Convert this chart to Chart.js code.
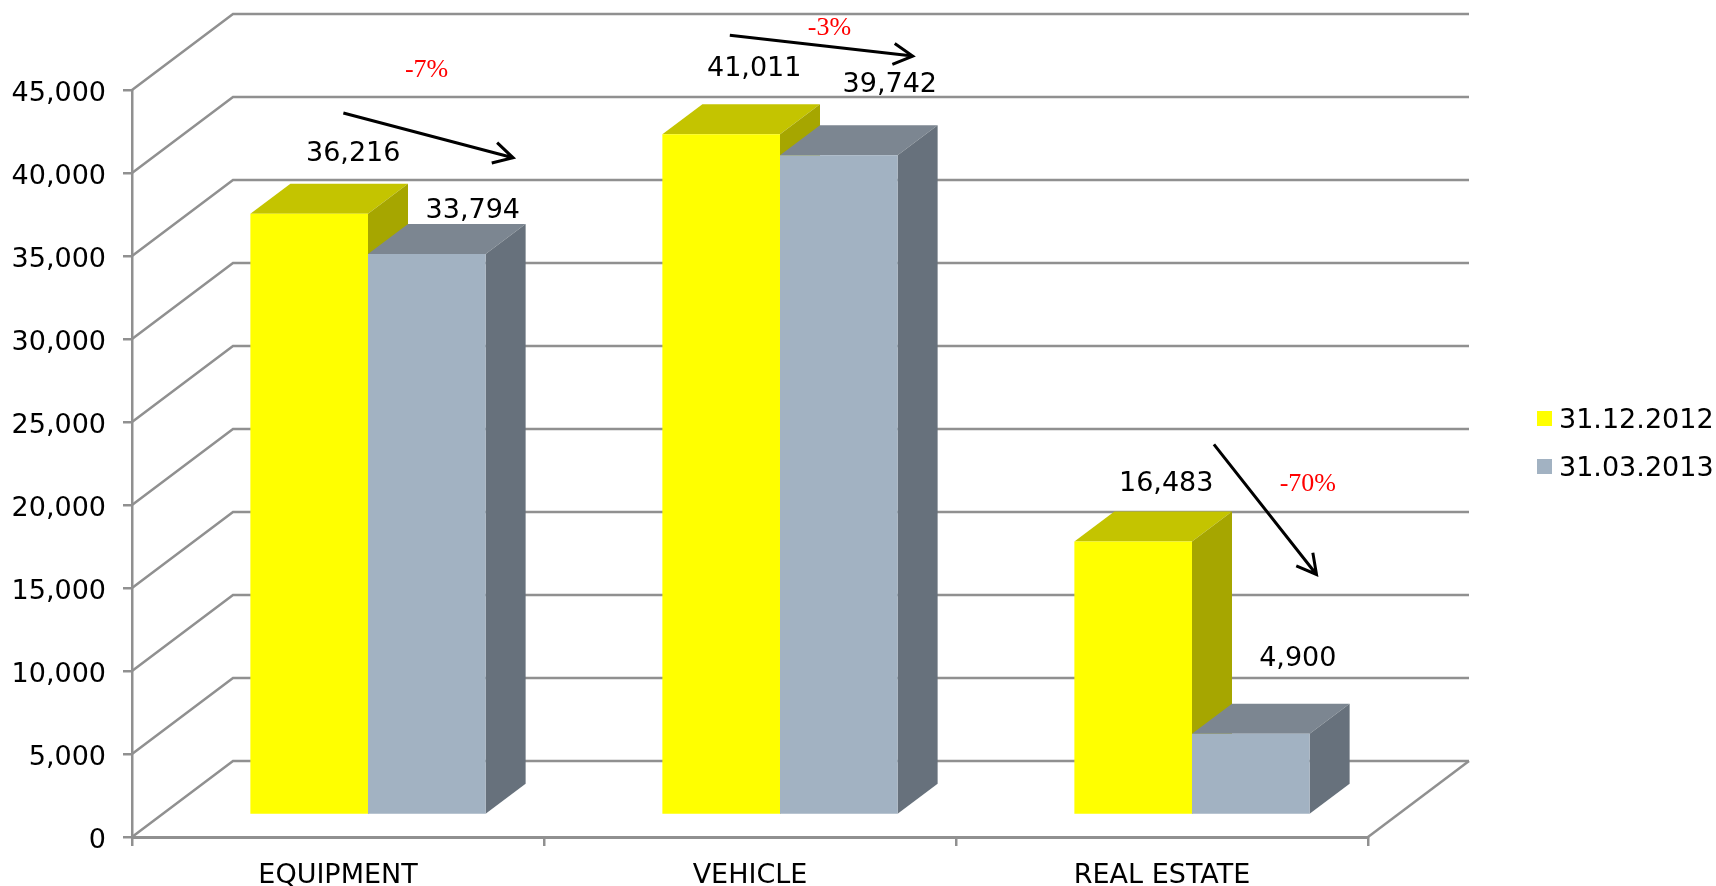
<!DOCTYPE html>
<html lang="en">

<head>
    <meta charset="UTF-8">
    <title>Portfolio by type</title>
    <script src="https://cdn.jsdelivr.net/npm/chart.js"></script>
    <style>
        html, body { margin: 0; padding: 0; background: #fff; overflow: hidden; }
        canvas { display: block; }
    </style>
</head>

<body>
    <canvas id="myChart" width="1716" height="886"></canvas>

    <script>
        // chart data
        const categories = ['EQUIPMENT', 'VEHICLE', 'REAL ESTATE'];
        const seriesNames = ['31.12.2012', '31.03.2013'];
        const values2012 = [36216, 41011, 16483];
        const values2013 = [33794, 39742, 4900];
        const yMax = 45000;
        const yStep = 5000;

        // change notes, placed in axis units: [category position, value, text]
        const notes = [
            [0.215, 46186, '-7%'],
            [1.193, 48750, '-3%'],
            [2.354, 21280, '-70%']
        ];
        // arrows in axis units: [from category, from value, to category, to value]
        const arrows = [
            [0.013, 43617, 0.425, 40915],
            [0.951, 48294, 1.395, 47043],
            [2.126, 23653, 2.375, 15813]
        ];

        // look of the fake 3d
        const front = ['#ffff00', '#a2b2c2'];
        const topFace = ['#c4c400', '#7c8691'];
        const sideFace = ['#a6a600', '#67717c'];
        const gridColor = '#909090';
        const wall = { dx: 101, dy: -76 };     // back wall offset from the axis plane
        const shift = { dx: 30, dy: -22 };     // bars stand this far in from the front
        const depth = { dx: 40, dy: -30 };     // bar depth
        const labelOffset = [
            [[44, -60], [33, -65], [33, -57]],
            [[46, -43], [51, -70], [47, -75]]
        ];
        const textFont = '27px "DejaVu Sans"';
        const noteFont = '26px "Liberation Serif"';

        function poly(ctx, color, pts) {
            ctx.fillStyle = color;
            ctx.beginPath();
            pts.forEach((p, i) => i ? ctx.lineTo(p[0], p[1]) : ctx.moveTo(p[0], p[1]));
            ctx.closePath();
            ctx.fill();
        }

        const box3d = {
            id: 'box3d',
            beforeDatasetsDraw(chart) {
                const ctx = chart.ctx;
                const { x, y } = chart.scales;

                // back wall and the diagonals going to it
                ctx.save();
                ctx.strokeStyle = gridColor;
                ctx.lineWidth = 2.5;
                for (let v = 0; v <= yMax; v += yStep) {
                    const py = y.getPixelForValue(v);
                    ctx.beginPath();
                    ctx.moveTo(x.left, py);
                    ctx.lineTo(x.left + wall.dx, py + wall.dy);
                    ctx.lineTo(x.right + wall.dx, py + wall.dy);
                    ctx.stroke();
                }
                const py0 = y.getPixelForValue(0);
                ctx.beginPath();
                ctx.moveTo(x.right, py0);
                ctx.lineTo(x.right + wall.dx, py0 + wall.dy);
                ctx.stroke();
                ctx.restore();

                // the bars themselves get drawn by chart.js inside this translate
                ctx.save();
                ctx.translate(shift.dx, shift.dy);
                chart.data.datasets.forEach((ds, d) => {
                    chart.getDatasetMeta(d).data.forEach(bar => {
                        const x0 = bar.x - bar.width / 2;
                        const x1 = bar.x + bar.width / 2;
                        poly(ctx, topFace[d], [
                            [x0, bar.y], [x0 + depth.dx, bar.y + depth.dy],
                            [x1 + depth.dx, bar.y + depth.dy], [x1, bar.y]
                        ]);
                        poly(ctx, sideFace[d], [
                            [x1, bar.y], [x1 + depth.dx, bar.y + depth.dy],
                            [x1 + depth.dx, bar.base + depth.dy], [x1, bar.base]
                        ]);
                    });
                });
            },
            afterDatasetsDraw(chart) {
                const ctx = chart.ctx;
                const { x, y } = chart.scales;
                ctx.restore();

                // value labels
                ctx.save();
                ctx.fillStyle = '#000';
                ctx.font = textFont;
                ctx.textAlign = 'center';
                ctx.textBaseline = 'middle';
                chart.data.datasets.forEach((ds, d) => {
                    chart.getDatasetMeta(d).data.forEach((bar, i) => {
                        const off = labelOffset[d][i];
                        ctx.fillText(ds.data[i].toLocaleString('en-US'),
                            bar.x + shift.dx + off[0], bar.y + shift.dy + off[1]);
                    });
                });

                // red percent notes
                ctx.fillStyle = '#ff0000';
                ctx.font = noteFont;
                notes.forEach(n => {
                    ctx.fillText(n[2], x.getPixelForValue(n[0]), y.getPixelForValue(n[1]));
                });

                // arrows
                ctx.strokeStyle = '#000';
                ctx.lineWidth = 3;
                arrows.forEach(a => {
                    const x0 = x.getPixelForValue(a[0]), y0 = y.getPixelForValue(a[1]);
                    const x1 = x.getPixelForValue(a[2]), y1 = y.getPixelForValue(a[3]);
                    const ang = Math.atan2(y1 - y0, x1 - x0);
                    ctx.beginPath();
                    ctx.moveTo(x0, y0);
                    ctx.lineTo(x1, y1);
                    ctx.moveTo(x1 - 22 * Math.cos(ang - 0.5), y1 - 22 * Math.sin(ang - 0.5));
                    ctx.lineTo(x1, y1);
                    ctx.lineTo(x1 - 22 * Math.cos(ang + 0.5), y1 - 22 * Math.sin(ang + 0.5));
                    ctx.stroke();
                });

                // legend, the built in one can't get this tight box/text gap
                ctx.textAlign = 'left';
                ctx.font = textFont;
                chart.data.datasets.forEach((ds, d) => {
                    const rowY = 418.5 + d * 48;
                    ctx.fillStyle = front[d];
                    ctx.fillRect(1537, rowY - 7.5, 15, 15);
                    ctx.fillStyle = '#000';
                    ctx.fillText(ds.label, 1559, rowY + 2);
                });
                ctx.restore();
            }
        };

        new Chart(document.getElementById('myChart').getContext('2d'), {
            type: 'bar',
            data: {
                labels: categories,
                datasets: [
                    { label: seriesNames[0], data: values2012, backgroundColor: front[0] },
                    { label: seriesNames[1], data: values2013, backgroundColor: front[1] }
                ]
            },
            options: {
                responsive: false,
                animation: false,
                layout: { padding: { top: 90, right: 348 } },
                datasets: { bar: { barPercentage: 1, categoryPercentage: 0.571, borderWidth: 0 } },
                plugins: { legend: { display: false }, tooltip: { enabled: false } },
                scales: {
                    x: {
                        afterFit: s => { s.height = 49; },
                        grid: { drawOnChartArea: false, color: gridColor, lineWidth: 2.5, tickLength: 9 },
                        border: { color: gridColor, width: 3 },
                        ticks: { color: '#000', font: { family: 'DejaVu Sans', size: 27 }, padding: 14, maxRotation: 0 }
                    },
                    y: {
                        min: 0,
                        max: yMax,
                        afterFit: s => { s.width = 132; },
                        grid: { drawOnChartArea: false, color: gridColor, lineWidth: 2.5, tickLength: 9 },
                        border: { color: gridColor, width: 2.5 },
                        ticks: {
                            stepSize: yStep,
                            color: '#000',
                            font: { family: 'DejaVu Sans', size: 27 },
                            padding: 17,
                            labelOffset: 4,
                            callback: v => v.toLocaleString('en-US')
                        }
                    }
                }
            },
            plugins: [box3d]
        });
    </script>
</body>

</html>
